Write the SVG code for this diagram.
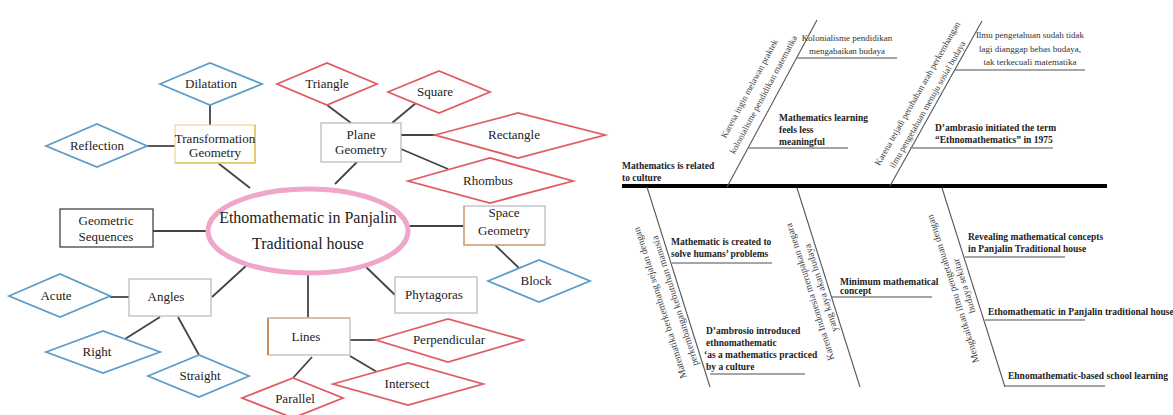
<svg xmlns="http://www.w3.org/2000/svg" width="1173" height="415" viewBox="0 0 1173 415">
<style>
.bg{fill:#fff}
.dB{fill:#fff;stroke:#5e9cc9;stroke-width:1.8}
.dR{fill:#fff;stroke:#e05c62;stroke-width:1.8}
.box{fill:#fff;stroke:#b8b8b8;stroke-width:1.2}
.t{font-family:"Liberation Serif","Times New Roman",serif;font-size:13px;fill:#222;text-anchor:middle}
.tc{font-family:"Liberation Serif","Times New Roman",serif;font-size:16px;fill:#222;text-anchor:middle}
.con line{stroke:#444;stroke-width:1.8}
.fb line{stroke:#555;stroke-width:1.1}
.fb line.sub{stroke:#888;stroke-width:1.6}
.fb line.spine{stroke:#000;stroke-width:4}
.b{font-family:"Liberation Serif","Times New Roman",serif;font-size:9.5px;font-weight:bold;fill:#222}
.r{font-family:"Liberation Serif","Times New Roman",serif;font-size:9px;fill:#333}
.rm{font-family:"Liberation Serif","Times New Roman",serif;font-size:9px;fill:#444;text-anchor:middle}
.rl{font-family:"Liberation Serif","Times New Roman",serif;font-size:9.8px;fill:#444;text-anchor:middle}
</style>
<rect class="bg" x="0" y="0" width="1173" height="415"/>

<g id="mindmap-connectors" class="con">
<line x1="210" y1="105" x2="210" y2="125"/>
<line x1="147" y1="146" x2="175" y2="146"/>
<line x1="218" y1="163" x2="250" y2="188"/>
<line x1="153" y1="231" x2="208" y2="231"/>
<line x1="110" y1="297" x2="129" y2="297"/>
<line x1="160" y1="317" x2="125" y2="339"/>
<line x1="178" y1="317" x2="199" y2="355"/>
<line x1="212" y1="297" x2="247" y2="265"/>
<line x1="327" y1="105" x2="351" y2="123"/>
<line x1="416" y1="103" x2="392" y2="123"/>
<line x1="401" y1="135" x2="435" y2="135"/>
<line x1="401" y1="149" x2="448" y2="169"/>
<line x1="357" y1="162" x2="335" y2="184"/>
<line x1="408" y1="226" x2="464" y2="226"/>
<line x1="495" y1="245" x2="520" y2="269"/>
<line x1="364" y1="265" x2="395" y2="295"/>
<line x1="308" y1="273" x2="308" y2="318"/>
<line x1="350" y1="340" x2="376" y2="340"/>
<line x1="350" y1="356" x2="377" y2="372"/>
<line x1="312" y1="357" x2="293" y2="378"/>
</g>

<g id="center">
<ellipse cx="308" cy="231" rx="100" ry="42" fill="#fff" stroke="#efa6c9" stroke-width="5"/>
<text class="tc" x="308" y="223">Ethomathematic in Panjalin</text>
<text class="tc" x="308" y="249">Traditional house</text>
</g>

<g id="transformation-geometry">
<rect x="175" y="125" width="80" height="38" fill="#fff" stroke="#ecd89a" stroke-width="1.2"/>
<path d="M175,163 H255 V125" fill="none" stroke="#e6c15c" stroke-width="1.6"/>
<text class="t" x="215" y="143">Transformation</text>
<text class="t" x="215" y="157">Geometry</text>
</g>
<g id="dilatation"><polygon class="dB" points="160,84 210,63 262,84 210,105"/><text class="t" x="211" y="88">Dilatation</text></g>
<g id="reflection"><polygon class="dB" points="46,146 97,124 147,146 97,167"/><text class="t" x="97" y="150">Reflection</text></g>

<g id="geometric-sequences">
<rect x="60" y="209" width="93" height="38" fill="#fff" stroke="#444" stroke-width="1.3"/>
<text class="t" x="106" y="225">Geometric</text>
<text class="t" x="106" y="241">Sequences</text>
</g>

<g id="angles"><rect class="box" x="129" y="279" width="82" height="37"/><text class="t" x="166" y="301">Angles</text></g>
<g id="acute"><polygon class="dB" points="9,296 60,274 110,296 60,317"/><text class="t" x="56" y="300">Acute</text></g>
<g id="right"><polygon class="dB" points="46,352 103,331 160,352 103,373"/><text class="t" x="97" y="356">Right</text></g>
<g id="straight"><polygon class="dB" points="148,376 199,355 249,376 199,397"/><text class="t" x="200" y="380">Straight</text></g>

<g id="plane-geometry"><rect class="box" x="321" y="123" width="80" height="39"/><text class="t" x="361" y="139">Plane</text><text class="t" x="361" y="154">Geometry</text></g>
<g id="triangle"><polygon class="dR" points="277,84 327,63 377,84 327,105"/><text class="t" x="327" y="88">Triangle</text></g>
<g id="square"><polygon class="dR" points="388,92 439,71 490,92 439,113"/><text class="t" x="435" y="96">Square</text></g>
<g id="rectangle"><polygon class="dR" points="435,135 518,113 605,135 518,158"/><text class="t" x="514" y="139">Rectangle</text></g>
<g id="rhombus"><polygon class="dR" points="408,181 490,158 573,181 490,203"/><text class="t" x="488" y="185">Rhombus</text></g>

<g id="space-geometry">
<rect class="box" x="464" y="206" width="81" height="39"/>
<path d="M464,206 V245 H545" fill="none" stroke="#d9a77a" stroke-width="1.6"/>
<text class="t" x="504" y="217">Space</text><text class="t" x="504" y="235">Geometry</text>
</g>
<g id="block"><polygon class="dB" points="488,281 539,260 590,281 539,302"/><text class="t" x="536" y="285">Block</text></g>

<g id="phytagoras"><rect class="box" x="395" y="277" width="82" height="36"/><text class="t" x="434" y="299">Phytagoras</text></g>

<g id="lines">
<rect class="box" x="268" y="318" width="82" height="37"/>
<path d="M268,318 V355" fill="none" stroke="#c98a55" stroke-width="2"/>
<path d="M268,318 H350" fill="none" stroke="#ddb99a" stroke-width="1.4"/>
<text class="t" x="306" y="341">Lines</text>
</g>
<g id="perpendicular"><polygon class="dR" points="376,340 448,319 523,340 448,362"/><text class="t" x="449" y="344">Perpendicular</text></g>
<g id="intersect"><polygon class="dR" points="333,384 408,363 483,384 408,405"/><text class="t" x="407" y="388">Intersect</text></g>
<g id="parallel"><polygon class="dR" points="242,398 293,378 343,398 293,418"/><text class="t" x="295" y="403">Parallel</text></g>

<g id="fishbone-connectors" class="fb">
<line class="spine" x1="622" y1="186" x2="1107" y2="186"/>
<line x1="727" y1="187" x2="817" y2="20"/>
<line x1="890" y1="186" x2="982" y2="21"/>
<line x1="647" y1="187" x2="710" y2="387"/>
<line x1="797" y1="188" x2="860" y2="387"/>
<line x1="942" y1="188" x2="1005" y2="387"/>
<line class="sub" x1="797" y1="58" x2="897" y2="58"/>
<line class="sub" x1="748" y1="148" x2="848" y2="148"/>
<line class="sub" x1="955" y1="70" x2="1085" y2="70"/>
<line class="sub" x1="910" y1="148" x2="1053" y2="148"/>
<line class="sub" x1="672" y1="263" x2="772" y2="263"/>
<line class="sub" x1="710" y1="374" x2="805" y2="374"/>
<line class="sub" x1="832" y1="297" x2="932" y2="297"/>
<line class="sub" x1="965" y1="257" x2="1065" y2="257"/>
<line class="sub" x1="985" y1="320" x2="1085" y2="320"/>
<line class="sub" x1="1005" y1="386" x2="1105" y2="386"/>
</g>

<g id="fb-head"><text class="b" x="622" y="169">Mathematics is related</text><text class="b" x="622" y="181">to culture</text></g>

<g id="bone-a">
<text class="rm" transform="translate(752,90) rotate(-61.8)">Karena ingin melawan praktek</text>
<text class="rm" transform="translate(766,96) rotate(-61.8)">kolonialisme pendidikan matematika</text>
</g>
<g id="kolonialisme"><text class="r" x="847" y="41" text-anchor="middle">Kolonialisme pendidikan</text><text class="r" x="847" y="54" text-anchor="middle">mengabaikan budaya</text></g>
<g id="learning-meaningless"><text class="b" x="779" y="121">Mathematics learning</text><text class="b" x="779" y="133">feels less</text><text class="b" x="779" y="145">meaningful</text></g>

<g id="bone-b">
<text class="rm" transform="translate(920,95) rotate(-60.4)">Karena terjadi perubahan arah perkembangan</text>
<text class="rm" transform="translate(930,106) rotate(-60.4)">ilmu pengetahuan menuju sosial budaya</text>
</g>
<g id="ilmu"><text class="r" x="1030" y="38" text-anchor="middle">Ilmu pengetahuan sudah tidak</text><text class="r" x="1030" y="52" text-anchor="middle">lagi dianggap bebas budaya,</text><text class="r" x="1030" y="65" text-anchor="middle">tak terkecuali matematika</text></g>
<g id="dambrasio-1975"><text class="b" x="935" y="131">D’ambrasio initiated the term</text><text class="b" x="935" y="143">“Ethnomathematics” in 1975</text></g>

<g id="bone-c">
<text class="rl" transform="translate(663,302) rotate(-107.5)">Matematika berkembang sejalan dengan</text>
<text class="rl" transform="translate(678,300) rotate(-107.5)">perkembangan kebutuhan manusia</text>
</g>
<g id="created"><text class="b" x="671" y="245">Mathematic is created to</text><text class="b" x="671" y="257">solve humans’ problems</text></g>
<g id="introduced"><text class="b" x="706" y="334">D’ambrosio introduced</text><text class="b" x="706" y="346">ethnomathematic</text><text class="b" x="704" y="358">‘as a mathematics practiced</text><text class="b" x="706" y="370">by a culture</text></g>

<g id="bone-d">
<text class="rl" transform="translate(813,291) rotate(-107.5)">Karena Indonesia merupakan negara</text>
<text class="rl" transform="translate(824,287) rotate(-107.5)">yang kaya akan budaya</text>
</g>
<g id="minimum"><text class="b" x="840" y="285">Minimum mathematical</text><text class="b" x="840" y="294">concept</text></g>

<g id="bone-e">
<text class="rl" transform="translate(956,288) rotate(-107.5)">Mengkaitkan ilmu pengetahuan dengan</text>
<text class="rl" transform="translate(967,285) rotate(-107.5)">budaya sekitar</text>
</g>
<g id="revealing"><text class="b" x="968" y="240">Revealing mathematical concepts</text><text class="b" x="968" y="252">in Panjalin Traditional house</text></g>
<g id="ethomathematic-house"><text class="b" x="988" y="315">Ethomathematic in Panjalin traditional house</text></g>
<g id="school-learning"><text class="b" x="1008" y="379">Ehnomathematic-based school learning</text></g>
</svg>
